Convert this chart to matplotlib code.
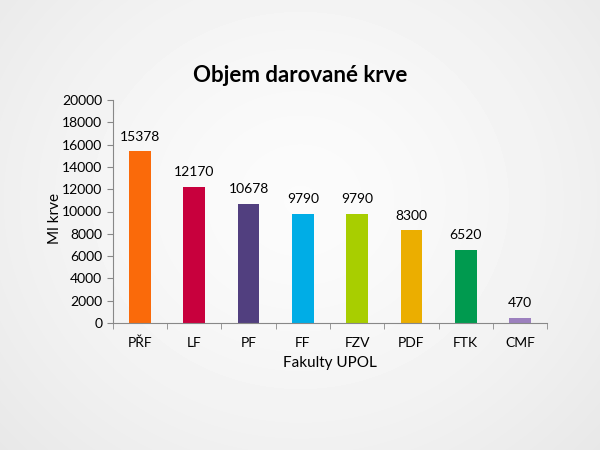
import numpy as np
import matplotlib.pyplot as plt

plt.rcParams['font.family'] = ['Lato', 'DejaVu Sans']

fakulty = ['PŘF', 'LF', 'PF', 'FF', 'FZV', 'PDF', 'FTK', 'CMF']
ml_krve = [15378, 12170, 10678, 9790, 9790, 8300, 6520, 470]
barvy = ['#FA6A0A', '#C8003D', '#513F7F', '#00ADE6', '#A8CE00', '#EBAE00', '#009A4F', '#9C80BE']

fig = plt.figure(figsize=(6, 4.5), dpi=100)

# background - radial gradient like the slide
bg = fig.add_axes([0, 0, 1, 1], zorder=-10)
yy, xx = np.mgrid[0:450, 0:600]
r = np.sqrt(((xx - 300) / 420.0) ** 2 + ((yy - 200) / 380.0) ** 2)
shade = 0.985 - 0.08 * np.clip(r, 0, 1.2) ** 1.5
bg.imshow(shade, cmap='gray', vmin=0, vmax=1, aspect='auto', extent=[0, 1, 0, 1])
bg.axis('off')

ax = fig.add_axes([0.188, 0.282, 0.724, 0.496])
ax.patch.set_alpha(0)
x = np.arange(len(fakulty))
ax.bar(x, ml_krve, width=0.4, color=barvy)
for xi, v in zip(x, ml_krve):
    ax.text(xi, v + 800, str(v), ha='center', va='bottom', fontsize=10)

ax.set_xlim(-0.5, len(fakulty) - 0.5)
ax.set_ylim(0, 20000)
ax.set_yticks(range(0, 20001, 2000))
ax.set_xticks(x)
ax.set_xticklabels(fakulty, fontsize=10)
ax.set_xticks(np.arange(-0.5, len(fakulty)), minor=True)
ax.tick_params(axis='x', which='major', length=0, pad=10)
ax.tick_params(axis='x', which='minor', length=4, color='#888888')
ax.tick_params(axis='y', labelsize=10, length=4, color='#888888')
for s in ['top', 'right']:
    ax.spines[s].set_visible(False)
for s in ['left', 'bottom']:
    ax.spines[s].set_color('#888888')

ax.set_ylabel('Ml krve', fontsize=11)
ax.yaxis.set_label_coords(-0.117, 0.47)
ax.set_xlabel('Fakulty UPOL', fontsize=11, labelpad=5)
fig.text(0.5, 0.833, 'Objem darované krve', ha='center', va='center', fontsize=16, fontweight='bold')

fig.savefig('out.png', dpi=100)
